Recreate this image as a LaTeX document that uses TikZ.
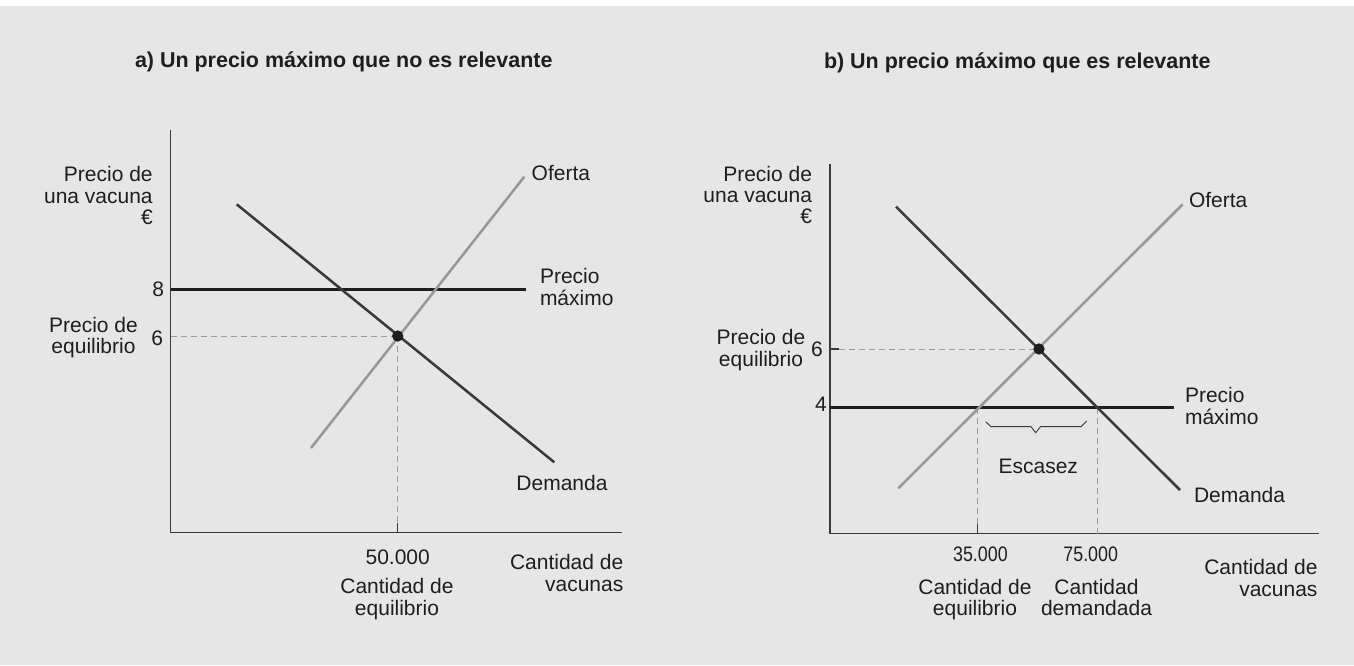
\documentclass[tikz,border=0pt]{standalone}
\usepackage{fontspec}
\setmainfont{Liberation Sans}
\definecolor{bg}{HTML}{E6E6E6}
\definecolor{ink}{HTML}{1E1E1E}
\definecolor{axisc}{HTML}{3A3A3A}
\definecolor{demc}{HTML}{3A3A3A}
\definecolor{supc}{HTML}{989898}
\definecolor{dashc}{HTML}{9A9A9A}
\definecolor{capc}{HTML}{1E1E1E}
\begin{document}
\begin{tikzpicture}[x=0.75pt,y=-0.75pt,
  every node/.style={inner sep=0pt, outer sep=0pt, text=ink, font=\fontsize{15.75}{16}\selectfont},
  titletext/.style={font=\fontsize{16.1}{17}\selectfont\bfseries},
  axisline/.style={draw=axisc, line width=1.1pt},
  demline/.style={draw=demc, line width=1.9pt},
  supline/.style={draw=supc, line width=1.9pt},
  capline/.style={draw=capc, line width=2.2pt},
  guide/.style={draw=dashc, line width=0.75pt, dash pattern=on 4.5pt off 3pt},
  tickline/.style={draw=axisc, line width=1.1pt},
  bracel/.style={draw=axisc, line width=0.7pt},
  eqdot/.style={circle, fill=capc, minimum size=8.5pt}]
\useasboundingbox (0,0) rectangle (1354,665);
\fill[bg] (0,0) rectangle (1354,665);
\fill[white] (0,0) rectangle (1354,6);

% ---------------- Panel a ----------------
\node[titletext, anchor=west] (tA) at (135,61.7) {a) Un precio máximo que no es relevante};
\coordinate (aO) at (170.7,532.7);
\coordinate (aTop) at (170.7,129.5);
\coordinate (aRight) at (621.7,532.7);
\draw[axisline] (aTop) -- (aO) -- (aRight);

\coordinate (aD1) at (236.7,204.3);
\coordinate (aD2) at (554.3,462.3);
\coordinate (aS1) at (311,448);
\coordinate (aS2) at (524.3,176.7);
\coordinate (aP1) at (170.7,289.3);
\coordinate (aP2) at (526,289.3);
\coordinate (aE) at (397.7,336);
\coordinate (aEy) at (170.7,336);
\coordinate (aEx) at (397.7,532.7);
\coordinate (aEt) at (397.7,523);

\draw[guide] (aEy) -- (aE);
\draw[guide] (aE) -- (aEt);
\draw[tickline] (aEt) -- (aEx);
\draw[capline] (aP1) -- (aP2);
\draw[supline] (aS1) -- (aS2);
\draw[demline] (aD1) -- (aD2);
\node[eqdot] (aDot) at (aE) {};

\node[anchor=east, align=right] (aYlab) at (152.7,195.5) {Precio de\\una vacuna\\€};
\node (a8) at (158.3,289.3) {8};
\node (a6) at (157.3,338) {6};
\node[align=center] (aEqLab) at (93.5,337.5) {Precio de\\equilibrio};
\node[anchor=west] (aOf) at (531.7,173) {Oferta};
\node[anchor=west, align=left] (aPm) at (540,287) {Precio\\máximo};
\node (aDem) at (562,483) {Demanda};
\node (a50) at (397.7,557.3) {50.000};
\node[align=center] (aQe) at (397,599) {Cantidad de\\equilibrio};
\node[anchor=east, align=right] (aQv) at (623.3,573) {Cantidad de\\vacunas};

% ---------------- Panel b ----------------
\node[titletext, anchor=west] (tB) at (824,63.3) {b) Un precio máximo que es relevante};
\coordinate (bO) at (830,533.5);
\coordinate (bTop) at (830,164.3);
\coordinate (bRight) at (1318.6,533.5);
\draw[axisline] (bTop) -- (bO) -- (bRight);

\coordinate (bD1) at (896,206.7);
\coordinate (bD2) at (1180,490);
\coordinate (bS1) at (898.3,488.3);
\coordinate (bS2) at (1182.7,204.3);
\coordinate (bP1) at (830,407.5);
\coordinate (bP2) at (1174.3,407.5);
\coordinate (bE) at (1039,349);
\coordinate (bEy) at (830,349);
\coordinate (bEyt) at (839,349);
\coordinate (bL1) at (977.7,407.5);
\coordinate (bL1b) at (977.7,524);
\coordinate (bL1x) at (977.7,533.5);
\coordinate (bL2) at (1097.3,407.5);
\coordinate (bL2b) at (1097.3,533.5);

\draw[tickline] (bEy) -- (bEyt);
\draw[guide] (bEyt) -- (bE);
\draw[guide] (bL1) -- (bL1b);
\draw[tickline] (bL1b) -- (bL1x);
\draw[guide] (bL2) -- (bL2b);
\draw[capline] (bP1) -- (bP2);
\draw[supline] (bS1) -- (bS2);
\draw[demline] (bD1) -- (bD2);
\node[eqdot] (bDot) at (bE) {};

\coordinate (br1) at (985.7,421.7);
\coordinate (br2) at (991,426.7);
\coordinate (br3) at (1031,426.7);
\coordinate (br4) at (1035.7,432.7);
\coordinate (br5) at (1040.5,426.7);
\coordinate (br6) at (1081,426.7);
\coordinate (br7) at (1086.7,421);
\draw[bracel] (br1) -- (br2) -- (br3) -- (br4) -- (br5) -- (br6) -- (br7);
\node (bEsc) at (1038.3,466) {Escasez};

\node[anchor=east, align=right] (bYlab) at (812,195) {Precio de\\una vacuna\\€};
\node (b6) at (817,349) {6};
\node (b4) at (821,404) {4};
\node[align=center] (bEqLab) at (761,350) {Precio de\\equilibrio};
\node[anchor=west] (bOf) at (1189,200) {Oferta};
\node[anchor=west, align=left] (bPm) at (1185,406) {Precio\\máximo};
\node[anchor=west] (bDem) at (1194,495) {Demanda};
\node (b35) at (980.4,554) {\scalebox{0.85}[1]{35.000}};
\node (b75) at (1090.7,554) {\scalebox{0.85}[1]{75.000}};
\node[align=center] (bQe) at (975,599.5) {Cantidad de\\equilibrio};
\node[align=center] (bQd) at (1096.5,599.5) {Cantidad\\demandada\vphantom{q}};
\node[anchor=east, align=right] (bQv) at (1317.5,578) {Cantidad de\\vacunas};
\end{tikzpicture}
\end{document}
